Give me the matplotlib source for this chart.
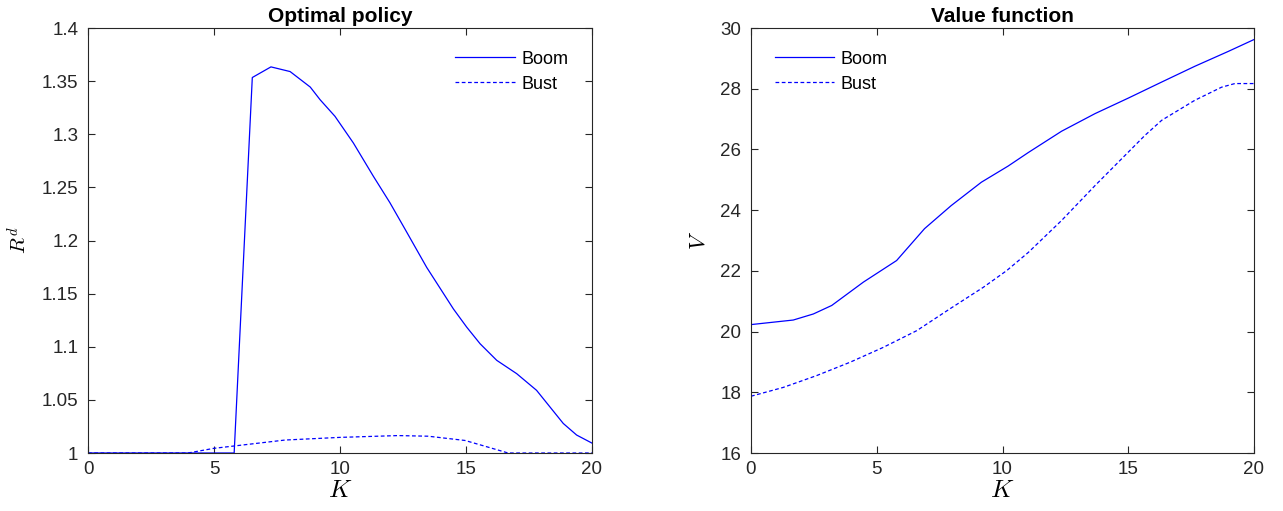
import matplotlib
matplotlib.use("Agg")
import matplotlib.pyplot as plt

# optimal policy R^d
k_boom_rd = [0, 5.8, 6.52, 7.26, 8.02, 8.82, 9.21, 9.8, 10.53, 11.32, 11.98, 12.58, 13.44,
             14.5, 15.03, 15.56, 16.22, 17.01, 17.8, 18.33, 18.86, 19.39, 20.0]
rd_boom = [1.0, 1.0, 1.3534, 1.3634, 1.359, 1.3444, 1.3325, 1.3169, 1.2918, 1.2606, 1.2356,
           1.2107, 1.1747, 1.1356, 1.1184, 1.1028, 1.0872, 1.0747, 1.059, 1.0434, 1.0278,
           1.0169, 1.0093]

k_bust_rd = [0, 3.97, 5.0, 5.8, 7.82, 10.0, 12.3, 13.5, 14.96, 15.82, 16.67, 20.0]
rd_bust = [1.0, 1.0, 1.0044, 1.0066, 1.0122, 1.0147, 1.0164, 1.0158, 1.0118, 1.0059, 1.0, 1.0]

# value function V
k_boom_v = [0, 1.68, 2.48, 3.21, 4.47, 5.79, 6.9, 7.96, 9.16, 10.22, 11.03, 12.35, 13.68,
            15.0, 16.33, 17.65, 18.98, 20.0]
v_boom = [20.23, 20.38, 20.58, 20.86, 21.63, 22.34, 23.39, 24.15, 24.92, 25.45, 25.9,
          26.6, 27.18, 27.69, 28.22, 28.74, 29.23, 29.62]

k_bust_v = [0, 1.28, 2.61, 3.94, 5.26, 6.59, 7.91, 9.24, 10.17, 11.03, 12.35, 13.68, 15.0,
            15.66, 16.33, 17.65, 18.71, 19.24, 20.0]
v_bust = [17.87, 18.16, 18.55, 18.99, 19.48, 20.03, 20.75, 21.46, 22.01, 22.61, 23.66,
          24.81, 25.91, 26.46, 26.96, 27.62, 28.05, 28.17, 28.17]

plt.rcParams['font.family'] = ['Liberation Sans', 'DejaVu Sans']
plt.rcParams['mathtext.fontset'] = 'cm'

axis_grey = '#262626'
fig = plt.figure(figsize=(12.83, 5.11), dpi=100)
ax1 = fig.add_axes([88 / 1283, 1 - 453 / 511, 504 / 1283, 425 / 511])
ax2 = fig.add_axes([751 / 1283, 1 - 453 / 511, 503 / 1283, 425 / 511])


def matlab_look(ax):
    for s in ax.spines.values():
        s.set_color(axis_grey)
        s.set_linewidth(0.8)
    ax.tick_params(direction='in', top=True, right=True, length=5, width=0.8,
                   colors=axis_grey, labelsize=13.5, labelcolor=axis_grey)
    ax.tick_params(axis='x', pad=6)
    ax.tick_params(axis='y', pad=7)


ax1.plot(k_boom_rd, rd_boom, color='blue', linewidth=0.9, label='Boom')
ax1.plot(k_bust_rd, rd_bust, color='blue', linewidth=0.9, linestyle=(0, (3, 2)), label='Bust')
ax1.set_xlim(0, 20)
ax1.set_ylim(1, 1.4)
ax1.set_xticks([0, 5, 10, 15, 20])
ax1.set_yticks([1, 1.05, 1.1, 1.15, 1.2, 1.25, 1.3, 1.35, 1.4])
ax1.set_yticklabels(['1', '1.05', '1.1', '1.15', '1.2', '1.25', '1.3', '1.35', '1.4'])
matlab_look(ax1)
ax1.set_title('Optimal policy', fontsize=15, fontweight='bold', pad=4)
ax1.set_xlabel('$K$', fontsize=18, labelpad=0)
ax1.set_ylabel('$R^d$', fontsize=15, labelpad=8)
ax1.legend(loc='upper right', frameon=False, fontsize=13, handlelength=3.3,
           handletextpad=0.35, labelspacing=0.45, bbox_to_anchor=(0.985, 0.985))

ax2.plot(k_boom_v, v_boom, color='blue', linewidth=0.9, label='Boom')
ax2.plot(k_bust_v, v_bust, color='blue', linewidth=0.9, linestyle=(0, (3, 2)), label='Bust')
ax2.set_xlim(0, 20)
ax2.set_ylim(16, 30)
ax2.set_xticks([0, 5, 10, 15, 20])
ax2.set_yticks(range(16, 31, 2))
matlab_look(ax2)
ax2.set_title('Value function', fontsize=15, fontweight='bold', pad=4)
ax2.set_xlabel('$K$', fontsize=18, labelpad=0)
ax2.set_ylabel('$V$', fontsize=16, labelpad=8)
ax2.legend(loc='upper left', frameon=False, fontsize=13, handlelength=3.3,
           handletextpad=0.35, labelspacing=0.45, bbox_to_anchor=(0.015, 0.985))

fig.savefig('out.png', dpi=100, facecolor='white')
